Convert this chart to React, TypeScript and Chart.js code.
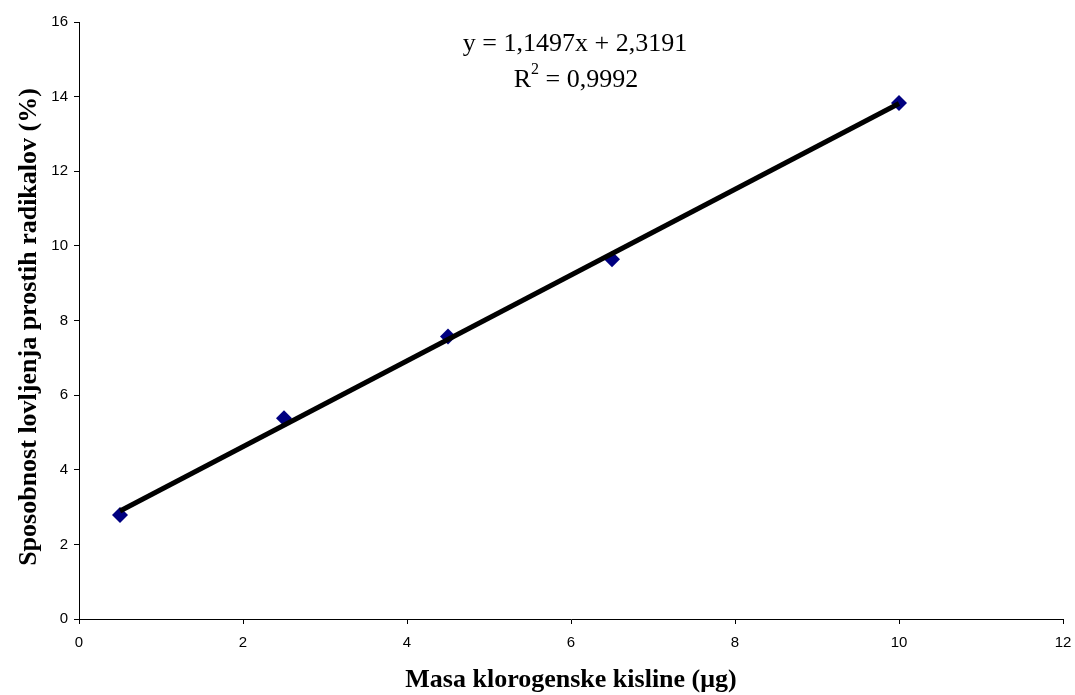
import React, { useEffect, useRef } from "react";
import { Chart, registerables } from "chart.js";

Chart.register(...registerables);

const massValues = [0.5, 2.5, 4.5, 6.5, 10];
const scavengingValues = [2.79, 5.38, 7.57, 9.64, 13.83];
const trendSlope = 1.1497;
const trendIntercept = 2.3191;
const equationText = "y = 1,1497x + 2,3191";
const r2Value = "0,9992";
const xTitle = "Masa klorogenske kisline (\u03bcg)";
const yTitle = "Sposobnost lovljenja prostih radikalov (%)";

const SERIF = "'Liberation Serif', 'Times New Roman', serif";

const textPlugin = {
  id: "customText",
  afterDraw(chart: any) {
    const ctx = chart.ctx;
    ctx.save();
    ctx.fillStyle = "#000";
    ctx.font = "bold 26px " + SERIF;
    ctx.textAlign = "center";
    ctx.textBaseline = "middle";
    ctx.fillText(xTitle, 571, 680);
    ctx.translate(29, 327);
    ctx.rotate(-Math.PI / 2);
    ctx.fillText(yTitle, 0, 0);
    ctx.restore();

    ctx.save();
    ctx.fillStyle = "#000";
    ctx.font = "26px " + SERIF;
    ctx.textAlign = "center";
    ctx.textBaseline = "middle";
    ctx.fillText(equationText, 575, 44);
    const rMain = "R";
    const rRest = " = " + r2Value;
    const wR = ctx.measureText(rMain).width;
    ctx.font = "16px " + SERIF;
    const wSup = ctx.measureText("2").width;
    ctx.font = "26px " + SERIF;
    const wRest = ctx.measureText(rRest).width;
    const total = wR + wSup + wRest;
    let x = 576 - total / 2;
    ctx.textAlign = "left";
    ctx.fillText(rMain, x, 80);
    x += wR;
    ctx.font = "16px " + SERIF;
    ctx.fillText("2", x, 70);
    x += wSup;
    ctx.font = "26px " + SERIF;
    ctx.fillText(rRest, x, 80);
    ctx.restore();
  },
};

export default function App() {
  const canvasRef = useRef<HTMLCanvasElement | null>(null);

  useEffect(() => {
    document.body.style.margin = "0";
    const canvas = canvasRef.current;
    if (!canvas) return;
    const points = massValues.map((x, i) => ({ x, y: scavengingValues[i] }));
    const xFirst = massValues[0];
    const xLast = massValues[massValues.length - 1];
    const trend = [
      { x: xFirst, y: trendSlope * xFirst + trendIntercept },
      { x: xLast, y: trendSlope * xLast + trendIntercept },
    ];
    const tickFont = { family: "'Liberation Sans', Arial, sans-serif", size: 15 };
    const chart = new Chart(canvas, {
      type: "scatter",
      data: {
        datasets: [
          {
            type: "line",
            data: trend,
            borderColor: "#000",
            borderWidth: 5,
            pointRadius: 0,
            showLine: true,
            fill: false,
            order: 0,
          } as any,
          {
            data: points,
            pointStyle: "rectRot",
            pointRadius: 8,
            pointBackgroundColor: "#000080",
            pointBorderColor: "#000080",
            pointBorderWidth: 0,
            order: 1,
          },
        ],
      },
      options: {
        animation: false,
        responsive: false,
        maintainAspectRatio: false,
        layout: { padding: { left: 0, top: 22, right: 12, bottom: 0 } },
        plugins: {
          legend: { display: false },
          tooltip: { enabled: false },
        },
        scales: {
          x: {
            type: "linear",
            min: 0,
            max: 12,
            ticks: { stepSize: 2, color: "#000", font: tickFont, padding: 10 },
            grid: {
              display: true,
              drawOnChartArea: false,
              drawTicks: true,
              tickLength: 5,
              color: "#000",
            },
            border: { display: true, color: "#000", width: 1 },
            afterFit(scale: any) {
              scale.height = 76;
              scale.paddingLeft = 0;
              scale.paddingRight = 0;
            },
          },
          y: {
            type: "linear",
            min: 0,
            max: 16,
            ticks: { stepSize: 2, color: "#000", font: tickFont, padding: 6 },
            grid: {
              display: true,
              drawOnChartArea: false,
              drawTicks: true,
              tickLength: 5,
              color: "#000",
            },
            border: { display: true, color: "#000", width: 1 },
            afterFit(scale: any) {
              scale.width = 79;
              scale.paddingTop = 0;
              scale.paddingBottom = 0;
            },
          },
        },
      },
      plugins: [textPlugin],
    });
    return () => chart.destroy();
  }, []);

  return (
    <div style={{ position: "absolute", left: 0, top: 0, width: 1075, height: 695, background: "#fff" }}>
      <canvas ref={canvasRef} width={1075} height={695} style={{ width: 1075, height: 695 }} />
    </div>
  );
}
